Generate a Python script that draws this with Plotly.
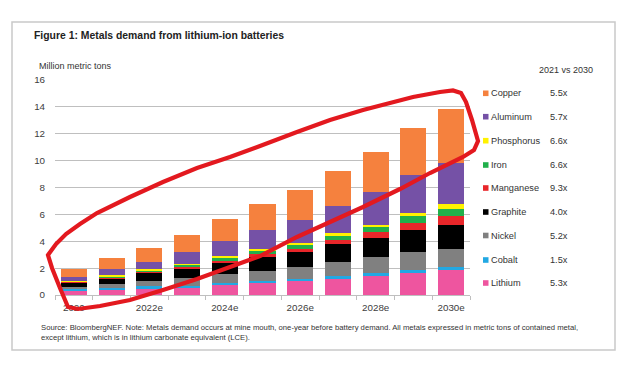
import plotly.graph_objects as go

years = [2020, 2021, 2022, 2023, 2024, 2025, 2026, 2027, 2028, 2029, 2030]
tick_years = [2020, 2022, 2024, 2026, 2028, 2030]
tick_labels = ["2020", "2022e", "2024e", "2026e", "2028e", "2030e"]

metals = ["Lithium", "Cobalt", "Nickel", "Graphite", "Manganese", "Iron", "Phosphorus", "Aluminum", "Copper"]
lithium = [0.32, 0.36, 0.48, 0.55, 0.72, 0.87, 1.02, 1.19, 1.41, 1.66, 1.84]
cobalt = [0.15, 0.16, 0.18, 0.15, 0.20, 0.17, 0.17, 0.20, 0.20, 0.20, 0.24]
nickel = [0.15, 0.30, 0.38, 0.54, 0.62, 0.75, 0.87, 1.04, 1.19, 1.32, 1.35]
graphite = [0.30, 0.42, 0.62, 0.70, 0.84, 1.06, 1.12, 1.34, 1.42, 1.68, 1.81]
manganese = [0.05, 0.08, 0.08, 0.12, 0.15, 0.20, 0.27, 0.30, 0.49, 0.47, 0.67]
iron = [0.04, 0.09, 0.10, 0.18, 0.27, 0.25, 0.27, 0.34, 0.35, 0.55, 0.51]
phosphorus = [0.06, 0.07, 0.09, 0.10, 0.10, 0.12, 0.17, 0.18, 0.15, 0.20, 0.32]
aluminum = [0.29, 0.47, 0.56, 0.84, 1.14, 1.42, 1.71, 2.03, 2.43, 2.85, 3.12]
copper = [0.57, 0.78, 1.03, 1.26, 1.61, 1.93, 2.21, 2.61, 3.02, 3.52, 4.00]
multipliers = ["5.3x", "1.5x", "5.2x", "4.0x", "9.3x", "6.6x", "6.6x", "5.7x", "5.5x"]

series = [lithium, cobalt, nickel, graphite, manganese, iron, phosphorus, aluminum, copper]
colors = ["#ee559f", "#22a8e3", "#808080", "#000000", "#e8262a", "#21b04b", "#fff200", "#7551a6", "#f5813e"]

# page body has an 8px margin: screen pixel = figure pixel + OFF
OFF = 8
W, H = 624 - OFF, 367 - OFF
# plot area in screen pixels
L, R, T, B = 55, 470, 80, 295


def px(x):
    return (x - L) / (R - L)


def py(y):
    return (B - y) / (B - T)


fig = go.Figure()
for name, vals, col in zip(metals, series, colors):
    fig.add_trace(go.Bar(x=years, y=vals, name=name, marker=dict(color=col, line=dict(width=0)),
                         width=0.69, showlegend=False))

shapes = []
annotations = []

# outer frame
shapes.append(dict(type="rect", xref="paper", yref="paper", x0=px(12), x1=px(615), y0=py(350), y1=py(22),
                   line=dict(color="#c9c9c9", width=1.5), layer="below"))

font = "Liberation Sans, Arial, sans-serif"
annotations.append(dict(xref="paper", yref="paper", x=px(32), y=py(36), xanchor="left", yanchor="middle",
                        text="<b>Figure 1: Metals demand from lithium-ion batteries</b>", showarrow=False,
                        font=dict(family=font, size=10.4, color="#222222")))
annotations.append(dict(xref="paper", yref="paper", x=px(37), y=py(66), xanchor="left", yanchor="middle",
                        text="Million metric tons", showarrow=False,
                        font=dict(family=font, size=9, color="#333333")))
annotations.append(dict(xref="paper", yref="paper", x=px(537), y=py(70), xanchor="left", yanchor="middle",
                        text="2021 vs 2030", showarrow=False,
                        font=dict(family=font, size=9, color="#333333")))
annotations.append(dict(xref="paper", yref="paper", x=px(39), y=py(332), xanchor="left", yanchor="middle",
                        align="left",
                        text="Source: BloombergNEF. Note: Metals demand occurs at mine mouth, one-year before battery demand. "
                             "All metals expressed in metric tons of contained metal,<br>except lithium, which is in lithium carbonate equivalent (LCE).",
                        showarrow=False, font=dict(family=font, size=7.7, color="#333333")))

# legend (manual)
leg_y = [283, 260, 235.5, 212, 188, 165, 140.7, 116.7, 93.3]
for name, col, mult, yy in zip(metals, colors, multipliers, leg_y):
    shapes.append(dict(type="rect", xref="paper", yref="paper", x0=px(483), x1=px(488.5), y0=py(yy + 2.8), y1=py(yy - 2.8),
                       fillcolor=col, line=dict(width=0)))
    annotations.append(dict(xref="paper", yref="paper", x=px(489), y=py(yy), xanchor="left", yanchor="middle",
                            text=name, showarrow=False, font=dict(family=font, size=9.2, color="#333333")))
    annotations.append(dict(xref="paper", yref="paper", x=px(548), y=py(yy), xanchor="left", yanchor="middle",
                            text=mult, showarrow=False, font=dict(family=font, size=9.2, color="#333333")))

# hand-drawn red outline
pts = [(48, 255), (56, 244), (66, 234), (80, 224), (97, 213), (130, 197), (163, 182), (197, 168), (230, 157),
       (260, 146), (297, 132), (330, 120), (363, 110), (413, 97), (440, 92), (453, 90.5), (461, 93),
       (466, 102), (472, 120), (478, 141), (474, 150), (463, 157), (430, 173), (400, 189), (363, 207),
       (330, 222), (297, 237), (260, 256), (230, 267), (197, 279), (163, 290), (130, 300), (100, 306),
       (78, 309), (68, 307), (60, 288), (52, 268), (48, 255)]
path = "M " + " L ".join(f"{px(x):.4f},{py(y):.4f}" for x, y in pts) + " Z"
shapes.append(dict(type="path", xref="paper", yref="paper", path=path, line=dict(color="#e3191f", width=4.2)))

fig.update_layout(
    barmode="stack",
    bargap=0.31,
    width=W, height=H,
    margin=dict(l=L - OFF, r=W - (R - OFF), t=T - OFF, b=H - (B - OFF)),
    paper_bgcolor="white", plot_bgcolor="white",
    shapes=shapes, annotations=annotations,
    font=dict(family=font, color="#404040"),
    xaxis=dict(range=[2019.5, 2030.5], tickvals=tick_years, ticktext=tick_labels, ticks="",
               showgrid=False, zeroline=False, showline=True, linecolor="#bfbfbf", linewidth=1.2,
               tickfont=dict(size=9.8, color="#404040"), ticklabelstandoff=3,
               minor=dict(tickvals=[y - 0.5 for y in years] + [2030.5], ticks="outside", ticklen=4,
                          tickcolor="#bfbfbf", tickwidth=1, showgrid=False)),
    yaxis=dict(range=[0, 16], tickvals=[0, 2, 4, 6, 8, 10, 12, 14, 16], showgrid=True, gridcolor="#bfbfbf",
               gridwidth=1.3, zeroline=False, showline=False, ticks="outside", ticklen=7, tickcolor="rgba(0,0,0,0)",
               tickfont=dict(size=9.8, color="#404040")),
)

fig.write_html("out.html")
